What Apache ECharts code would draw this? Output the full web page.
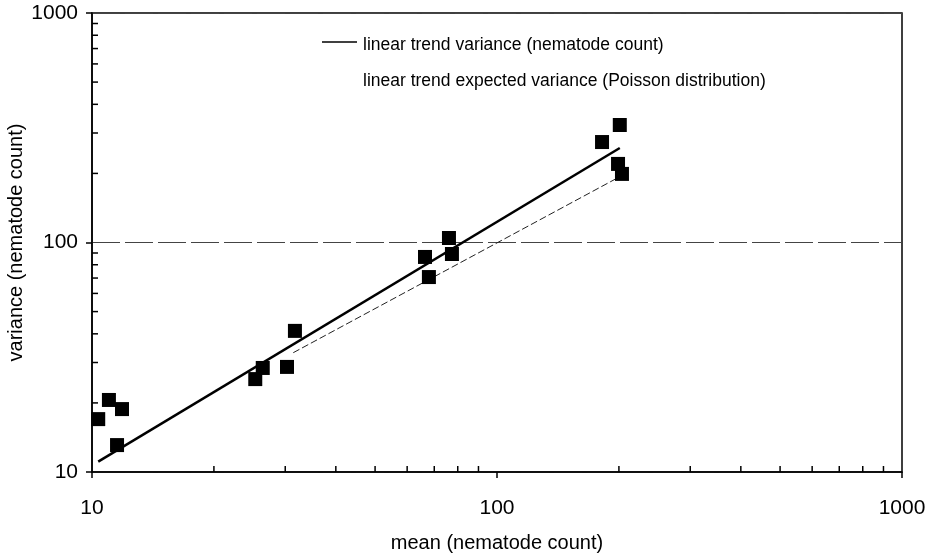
<!DOCTYPE html>
<html>
<head>
<meta charset="utf-8">
<script src="https://cdn.jsdelivr.net/npm/echarts@6/dist/echarts.min.js"></script>
<style>
  html, body { margin: 0; padding: 0; background: #fff; }
  #chart { width: 932px; height: 557px; }
</style>
</head>
<body>
<div id="chart"></div>
<script>
// Mean vs variance of nematode counts per sample group
const meanCounts = [10.36, 11.01, 11.86, 11.53, 25.3, 26.4, 30.3, 31.7, 66.4, 67.9, 76.1, 77.4, 181.7, 201, 199, 203.5];
const varianceCounts = [17.0, 20.6, 18.8, 13.1, 25.4, 28.4, 28.7, 41.2, 86.5, 70.7, 104.6, 89.1, 274, 325, 220, 199];

// Fitted trend of observed variance (end points)
const trendVarianceX = [10.36, 201];
const trendVarianceY = [11.09, 258];

// Trend of expected variance under a Poisson distribution (end points)
const trendPoissonX = [31.4, 197.6];
const trendPoissonY = [33.1, 190.4];

// Minor tick positions on both log axes
const minorTicks = [20, 30, 40, 50, 60, 70, 80, 90, 200, 300, 400, 500, 600, 700, 800, 900];

const legendLabels = [
  'linear trend variance (nematode count)',
  'linear trend expected variance (Poisson distribution)'
];

const FONT = '"Liberation Sans", Arial, sans-serif';
const chart = echarts.init(document.getElementById('chart'), null, { renderer: 'canvas' });

function zip(xs, ys) { return xs.map((x, i) => [x, ys[i]]); }

chart.setOption({
  animation: false,
  backgroundColor: '#fff',
  textStyle: { fontFamily: FONT, color: '#000' },
  grid: {
    left: 92, right: 30, top: 13, bottom: 85,
    outerBoundsMode: 'none',
    containLabel: false,
    show: true, borderColor: '#000', borderWidth: 1.5, backgroundColor: 'transparent'
  },
  // Key drawn at the top of the plot: a line sample for the fitted trend,
  // the Poisson trend entry is shown as text only
  graphic: [
    { type: 'line', shape: { x1: 322, y1: 42, x2: 357, y2: 42 },
      style: { stroke: '#000', lineWidth: 1.5 }, z: 10 },
    { type: 'text', left: 363, top: 36,
      style: { text: legendLabels[0], font: '17.5px ' + FONT, fill: '#000' }, z: 10 },
    { type: 'text', left: 363, top: 72,
      style: { text: legendLabels[1], font: '17.5px ' + FONT, fill: '#000' }, z: 10 }
  ],
  xAxis: {
    type: 'log', logBase: 10, min: 10, max: 1000,
    name: 'mean (nematode count)', nameLocation: 'middle', nameGap: 61,
    nameTextStyle: { fontFamily: FONT, fontSize: 20, color: '#000' },
    axisLine: { lineStyle: { color: '#000', width: 1.5 } },
    axisTick: { inside: false, length: 6, lineStyle: { color: '#000', width: 1.5 } },
    axisLabel: { fontFamily: FONT, fontSize: 21, color: '#000', margin: 26,
                 formatter: v => String(Math.round(v)) },
    splitLine: { show: false }
  },
  yAxis: {
    type: 'log', logBase: 10, min: 10, max: 1000,
    name: 'variance (nematode count)', nameLocation: 'middle', nameGap: 66,
    nameMoveOverlap: false,
    nameTextStyle: { fontFamily: FONT, fontSize: 20, color: '#000' },
    axisLine: { lineStyle: { color: '#000', width: 1.5 } },
    axisTick: { inside: false, length: 6, lineStyle: { color: '#000', width: 1.5 } },
    axisLabel: { fontFamily: FONT, fontSize: 21, color: '#000', margin: 14,
                 formatter: v => String(Math.round(v)) },
    splitLine: { show: true, lineStyle: { color: '#444', width: 1, type: [28, 5] } }
  },
  series: [
    {
      name: 'minorX',
      type: 'custom',
      silent: true,
      clip: false,
      data: minorTicks.map(v => [v, 10]),
      renderItem: function (params, api) {
        const p = api.coord([api.value(0), api.value(1)]);
        return { type: 'line', shape: { x1: p[0], y1: p[1], x2: p[0], y2: p[1] - 6 },
                 style: { stroke: '#000', lineWidth: 1.5 } };
      }
    },
    {
      name: 'minorY',
      type: 'custom',
      silent: true,
      clip: false,
      data: minorTicks.map(v => [10, v]),
      renderItem: function (params, api) {
        const p = api.coord([api.value(0), api.value(1)]);
        return { type: 'line', shape: { x1: p[0], y1: p[1], x2: p[0] + 6, y2: p[1] },
                 style: { stroke: '#000', lineWidth: 1.5 } };
      }
    },
    {
      name: legendLabels[1],
      type: 'line',
      symbol: 'none',
      data: zip(trendPoissonX, trendPoissonY),
      lineStyle: { color: '#222', width: 1, type: [7, 3] },
      z: 3
    },
    {
      name: legendLabels[0],
      type: 'line',
      symbol: 'none',
      data: zip(trendVarianceX, trendVarianceY),
      lineStyle: { color: '#000', width: 2.5 },
      z: 3
    },
    {
      name: 'counts',
      type: 'scatter',
      symbol: 'rect',
      symbolSize: 14,
      data: zip(meanCounts, varianceCounts),
      itemStyle: { color: '#000', opacity: 1 },
      z: 4
    }
  ]
});
</script>
</body>
</html>
